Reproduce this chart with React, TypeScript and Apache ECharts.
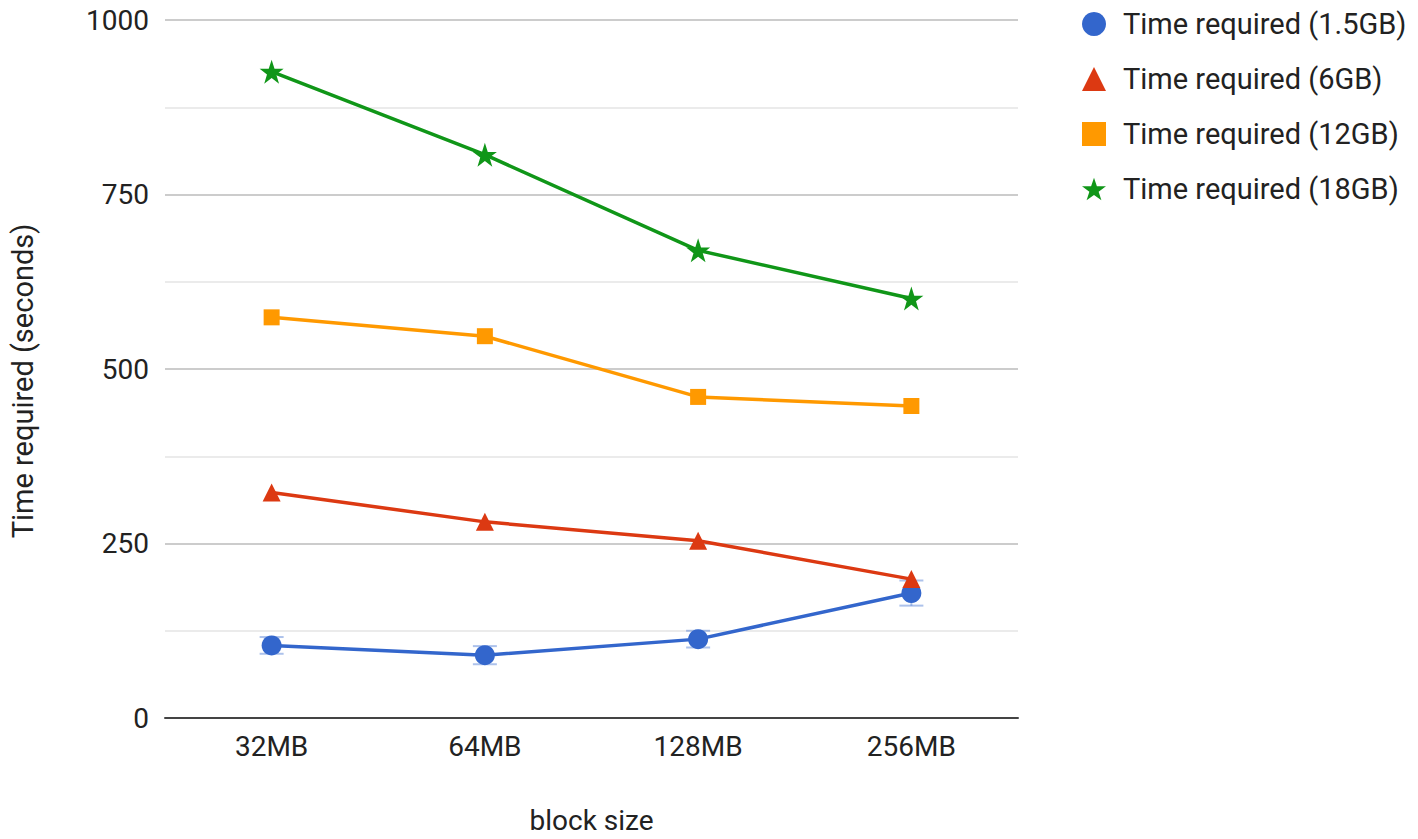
import React, { useEffect, useRef } from "react";
import * as echarts from "echarts";

const categories = ["32MB", "64MB", "128MB", "256MB"];
const seriesNames = [
  "Time required (1.5GB)",
  "Time required (6GB)",
  "Time required (12GB)",
  "Time required (18GB)",
];
const values15 = [104, 90, 113, 179];
const values6 = [323, 281, 254, 199];
const values12 = [574, 547, 460, 447];
const values18 = [926, 807, 670, 601];
const err15Low = [92, 77, 101, 161];
const err15High = [116, 103, 125, 197];
const yTicks = { min: 0, max: 1000, interval: 250 };

const STAR =
  "path://M50,0 L61.8,35.1 L98.9,35.1 L68.9,56.7 L80.2,91.9 L50,70.2 L19.8,91.9 L31.1,56.7 L1.1,35.1 L38.2,35.1 Z";

export default function App() {
  const ref = useRef<HTMLDivElement>(null);
  useEffect(() => {
    if (!ref.current) return;
    const chart = echarts.init(ref.current, undefined, { renderer: "svg" });
    const font = "Roboto";
    const colors = ["#3366cc", "#dc3912", "#ff9900", "#109618"];
    const symbols = ["circle", "triangle", "rect", STAR];
    const sizes = [20, 18, 16, 24];
    const data = [values15, values6, values12, values18];
    chart.setOption({
      animation: false,
      textStyle: { fontFamily: font },
      grid: { left: 162, right: 400, top: 20, bottom: 119, containLabel: false },
      legend: {
        orient: "vertical",
        left: 1077,
        top: 4,
        itemWidth: 24,
        itemHeight: 24,
        itemGap: 25,
        data: seriesNames.map((n, i) => ({ name: n, icon: symbols[i] })),
        textStyle: {
          fontSize: 29,
          color: "#222",
          fontFamily: font,
          lineHeight: 30,
          padding: [0, 0, 0, 12],
        },
      },
      xAxis: {
        type: "category",
        data: categories,
        boundaryGap: true,
        name: "block size",
        nameLocation: "middle",
        nameGap: 88,
        nameTextStyle: { fontSize: 28, color: "#222", fontFamily: font },
        axisLine: { lineStyle: { color: "#444", width: 2 } },
        axisTick: { show: false },
        axisLabel: { fontSize: 28, color: "#222", margin: 14, fontFamily: font },
      },
      yAxis: {
        type: "value",
        min: yTicks.min,
        max: yTicks.max,
        interval: yTicks.interval,
        name: "Time required (seconds)",
        nameLocation: "middle",
        nameGap: 128,
        nameRotate: 90,
        nameTextStyle: {
          fontSize: 29,
          color: "#222",
          fontFamily: font,
          padding: [0, 24, 0, 0],
        },
        axisLine: { show: false },
        axisTick: { show: false },
        axisLabel: {
          fontSize: 28,
          color: "#222",
          margin: 16,
          fontFamily: font,
          formatter: (v: number) => String(v),
        },
        splitLine: { lineStyle: { color: "#cccccc", width: 2 } },
        minorTick: { show: false, splitNumber: 2 },
        minorSplitLine: { show: true, lineStyle: { color: "#ebebeb", width: 2 } },
      },
      series: [
        {
          type: "custom",
          name: "err",
          z: 1,
          silent: true,
          data: categories.map((_, i) => [i, err15Low[i], err15High[i]]),
          renderItem: (params: any, api: any) => {
            const x = api.value(0);
            const lo = api.coord([x, api.value(1)]);
            const hi = api.coord([x, api.value(2)]);
            const half = 12;
            const style = { stroke: "rgba(51,102,204,0.4)", lineWidth: 2 };
            return {
              type: "group",
              children: [
                { type: "line", shape: { x1: lo[0], y1: lo[1], x2: hi[0], y2: hi[1] }, style },
                { type: "line", shape: { x1: lo[0] - half, y1: lo[1], x2: lo[0] + half, y2: lo[1] }, style },
                { type: "line", shape: { x1: hi[0] - half, y1: hi[1], x2: hi[0] + half, y2: hi[1] }, style },
              ],
            };
          },
        },
        ...seriesNames.map((n, i) => ({
          type: "line",
          name: n,
          data: data[i],
          z: 3 + i,
          symbol: symbols[i],
          symbolSize: sizes[i],
          showAllSymbol: true,
          lineStyle: { color: colors[i], width: 3.5 },
          itemStyle: { color: colors[i] },
          emphasis: { disabled: true },
        })),
      ],
    });
    return () => chart.dispose();
  }, []);
  return (
    <div
      ref={ref}
      style={{ position: "absolute", left: 0, top: 0, width: 1418, height: 839 }}
    />
  );
}
